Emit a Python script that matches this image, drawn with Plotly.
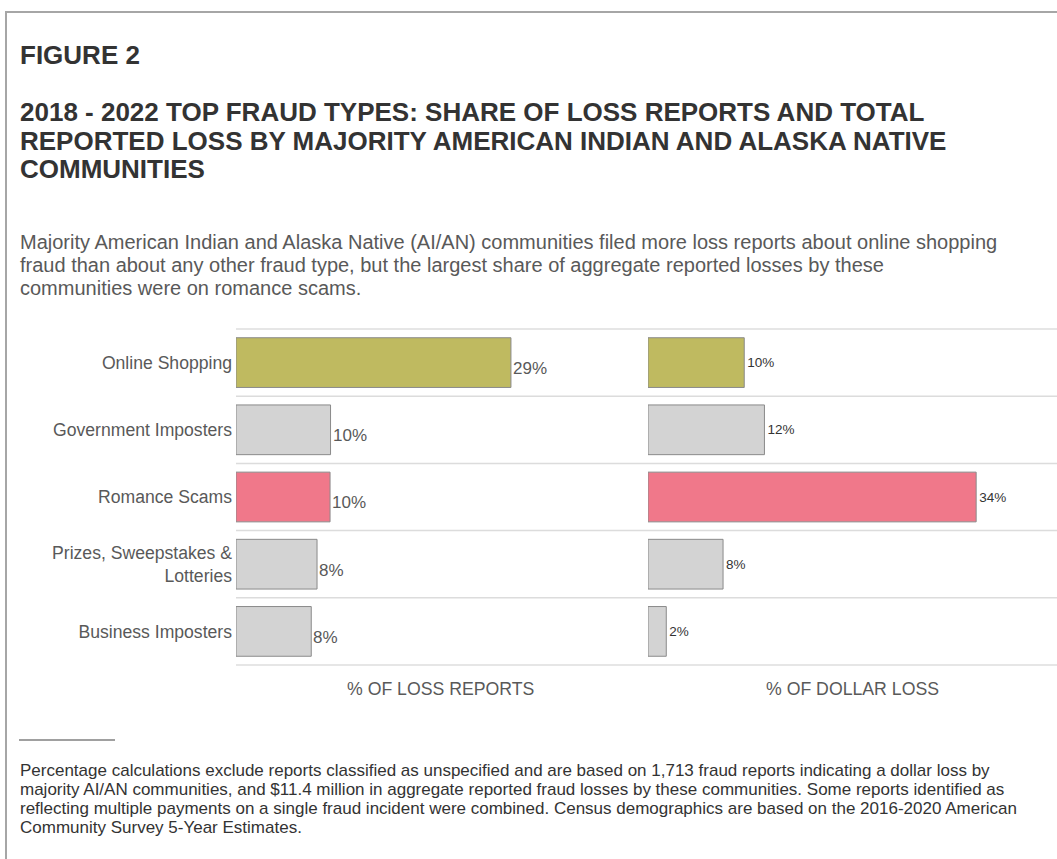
import plotly.graph_objects as go

categories = ["Online Shopping", "Government Imposters", "Romance Scams",
              "Prizes, Sweepstakes &<br>Lotteries", "Business Imposters"]
loss_reports = [28.5, 9.8, 9.75, 8.4, 7.8]
dollar_loss = [10.0, 12.1, 34.1, 7.8, 1.9]
loss_labels = ["29%", "10%", "10%", "8%", "8%"]
dollar_labels = ["10%", "12%", "34%", "8%", "2%"]
bar_colors = ["#BFBA60", "#D3D3D3", "#F0788A", "#D3D3D3", "#D3D3D3"]

title_lines = ["2018 - 2022 TOP FRAUD TYPES: SHARE OF LOSS REPORTS AND TOTAL",
               "REPORTED LOSS BY MAJORITY AMERICAN INDIAN AND ALASKA NATIVE",
               "COMMUNITIES"]
subtitle_lines = ["Majority American Indian and Alaska Native (AI/AN) communities filed more loss reports about online shopping",
                  "fraud than about any other fraud type, but the largest share of aggregate reported losses by these",
                  "communities were on romance scams."]
foot_lines = ["Percentage calculations exclude reports classified as unspecified and are based on 1,713 fraud reports indicating a dollar loss by",
              "majority AI/AN communities, and $11.4 million in aggregate reported fraud losses by these communities. Some reports identified as",
              "reflecting multiple payments on a single fraud incident were combined. Census demographics are based on the 2016-2020 American",
              "Community Survey 5-Year Estimates."]

W, H = 1057, 859
FONT = "Arial, Liberation Sans, sans-serif"
DARK = "#333333"
GREY = "#595959"

def px(x):
    return x / W

def py(y):
    return 1 - y / H

fig = go.Figure()
fig.add_trace(go.Bar(
    y=categories, x=loss_reports, orientation="h",
    marker=dict(color=bar_colors, line=dict(color="#8a8a8a", width=1)),
    xaxis="x", yaxis="y", hoverinfo="skip", showlegend=False))
fig.add_trace(go.Bar(
    y=categories, x=dollar_loss, orientation="h",
    marker=dict(color=bar_colors, line=dict(color="#8a8a8a", width=1)),
    text=dollar_labels, textposition="outside", cliponaxis=False,
    textfont=dict(family=FONT, size=13.5, color=DARK),
    xaxis="x2", yaxis="y2", hoverinfo="skip", showlegend=False))

annotations = []
for c, v, t in zip(categories, loss_reports, loss_labels):
    annotations.append(dict(x=v, y=c, xref="x", yref="y", text=t, showarrow=False,
                            xanchor="left", yanchor="middle", xshift=0, yshift=-6,
                            font=dict(family=FONT, size=17, color=GREY)))

annotations.append(dict(x=px(18), y=py(55), xref="paper", yref="paper", text="<b>FIGURE 2</b>",
                        showarrow=False, xanchor="left", yanchor="middle",
                        font=dict(family=FONT, size=26, color=DARK)))
for i, line in enumerate(title_lines):
    annotations.append(dict(x=px(18), y=py(112 + i * 28.5), xref="paper", yref="paper",
                            text="<b>" + line + "</b>", showarrow=False,
                            xanchor="left", yanchor="middle",
                            font=dict(family=FONT, size=26, color=DARK)))
for i, line in enumerate(subtitle_lines):
    annotations.append(dict(x=px(18), y=py(242 + i * 23), xref="paper", yref="paper",
                            text=line, showarrow=False, xanchor="left", yanchor="middle",
                            font=dict(family=FONT, size=20, color=GREY)))
for i, line in enumerate(foot_lines):
    annotations.append(dict(x=px(18), y=py(770 + i * 19), xref="paper", yref="paper",
                            text=line, showarrow=False, xanchor="left", yanchor="middle",
                            font=dict(family=FONT, size=17, color=DARK)))
annotations.append(dict(x=(px(236) + px(646)) / 2, y=py(689), xref="paper", yref="paper",
                        text="% OF LOSS REPORTS", showarrow=False, xanchor="center", yanchor="middle",
                        font=dict(family=FONT, size=17.7, color=GREY)))
annotations.append(dict(x=(px(648) + 1) / 2, y=py(689), xref="paper", yref="paper",
                        text="% OF DOLLAR LOSS", showarrow=False, xanchor="center", yanchor="middle",
                        font=dict(family=FONT, size=17.7, color=GREY)))

shapes = []
for k in range(len(categories) + 1):
    edge = k in (0, len(categories))
    shapes.append(dict(type="line", xref="paper", yref="y", x0=px(236), x1=1,
                       y0=k - 0.5, y1=k - 0.5,
                       line=dict(color="#e6e6e6" if edge else "#dcdcdc", width=2 if edge else 1.5),
                       layer="below"))
shapes.append(dict(type="rect", xref="paper", yref="paper", x0=px(6), x1=1.01,
                   y0=-0.01, y1=py(12), line=dict(color="#a6a6a6", width=2)))
shapes.append(dict(type="line", xref="paper", yref="paper", x0=px(19), x1=px(115),
                   y0=py(740), y1=py(740), line=dict(color="#808080", width=1.5)))

fig.update_layout(
    width=W, height=H,
    margin=dict(l=0, r=0, t=0, b=0),
    paper_bgcolor="white", plot_bgcolor="white",
    bargap=0.26,
    font=dict(family=FONT, color=GREY),
    xaxis=dict(domain=[px(236), px(646)], range=[0, 42.5], showgrid=False,
               zeroline=False, showticklabels=False, showline=False),
    xaxis2=dict(domain=[px(648), 1], range=[0, 42.5], showgrid=False,
                zeroline=False, showticklabels=False, showline=False),
    yaxis=dict(domain=[py(666), py(328)], categoryorder="array", categoryarray=categories,
               autorange="reversed", showgrid=False, zeroline=False, ticks="",
               ticklabelstandoff=3,
               tickfont=dict(family=FONT, size=17.6, color=GREY)),
    yaxis2=dict(domain=[py(666), py(328)], anchor="x2", matches="y", showgrid=False,
                zeroline=False, showticklabels=False, ticks=""),
    annotations=annotations,
    shapes=shapes,
)

fig.write_html("out.html", config={"displayModeBar": False},
               post_script="document.body.style.margin='0';document.body.style.overflow='hidden';")
